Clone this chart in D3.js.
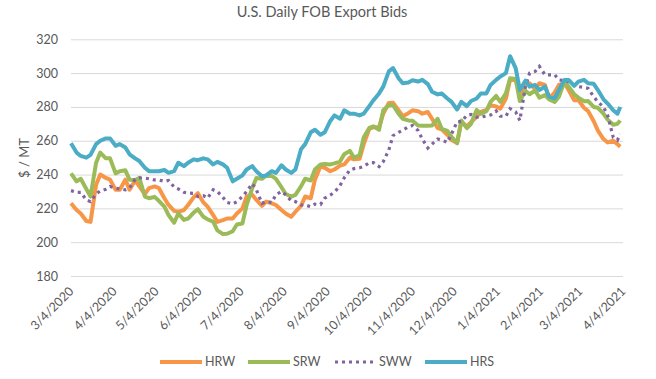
<!DOCTYPE html>
<html>
<head>
<meta charset="utf-8">
<script src="https://cdn.jsdelivr.net/npm/d3@7"></script>
<style>
  body { margin: 0; background: #fff; }
  text { font-family: Lato, "Open Sans", sans-serif; fill: #595959; }
</style>
</head>
<body>
<svg></svg>
<script>
// readings taken off the chart, twice a week
var dates = [
  "2020-03-04","2020-03-08","2020-03-11","2020-03-15","2020-03-18","2020-03-22","2020-03-25","2020-03-29",
  "2020-04-01","2020-04-05","2020-04-08","2020-04-12","2020-04-15","2020-04-19","2020-04-22","2020-04-26","2020-04-29","2020-05-03",
  "2020-05-06","2020-05-10","2020-05-13","2020-05-17","2020-05-20","2020-05-24","2020-05-27","2020-05-31",
  "2020-06-03","2020-06-07","2020-06-10","2020-06-14","2020-06-17","2020-06-21","2020-06-24","2020-06-28",
  "2020-07-01","2020-07-05","2020-07-08","2020-07-12","2020-07-15","2020-07-19","2020-07-22","2020-07-26","2020-07-29","2020-08-02",
  "2020-08-05","2020-08-09","2020-08-12","2020-08-16","2020-08-19","2020-08-23","2020-08-26","2020-08-30",
  "2020-09-02","2020-09-06","2020-09-09","2020-09-13","2020-09-16","2020-09-20","2020-09-23","2020-09-27","2020-09-30","2020-10-04",
  "2020-10-07","2020-10-11","2020-10-14","2020-10-18","2020-10-21","2020-10-25","2020-10-28","2020-11-01",
  "2020-11-04","2020-11-08","2020-11-11","2020-11-15","2020-11-18","2020-11-22","2020-11-25","2020-11-29",
  "2020-12-02","2020-12-06","2020-12-09","2020-12-13","2020-12-16","2020-12-20","2020-12-23","2020-12-27","2020-12-30","2021-01-03",
  "2021-01-06","2021-01-10","2021-01-13","2021-01-17","2021-01-20","2021-01-24","2021-01-27","2021-01-31",
  "2021-02-03","2021-02-07","2021-02-10","2021-02-14","2021-02-17","2021-02-21","2021-02-24","2021-02-28",
  "2021-03-03","2021-03-07","2021-03-10","2021-03-14","2021-03-17","2021-03-21","2021-03-24","2021-03-28","2021-03-31","2021-04-02"]

var hrw = [223,219, 217,212.5, 212,234, 240,238, 237,231, 231,237, 231,236.5, 233,228.5, 232,233, 232,226, 222,218.5,
  218,219, 222,226.5, 229,223.5, 221,216, 212,213, 214,214, 217,220, 227,228, 225,221.5, 224,223, 222,219, 217,215,
  218,221.5, 227,226, 237,245, 244,242, 243,245.3, 246,250, 249,249.3, 258,267, 268,268, 276,282.3, 282.5,278,
  274.5,276.3, 278,277.5, 276,277, 273,267.5, 266.8,263.5, 260.5,258.7, 271,268.5, 271,274.2, 277,278.2, 281,280.3,
  279,285, 296,296, 288,293.5, 294,290.5, 294,293, 285,288.5, 293,294, 290,284, 284,279.5, 277.5,271.5, 266,261,
  259,260, 258,256.5]
var srw = [240.7,236, 237.5,231.5, 227,247, 253,249.6, 249.6,240.7, 242,242.5, 237,236.8, 238,227, 226,226.8, 224.5,221,
  216,211.5, 217,213.2, 214,217.5, 219.5,215, 213.5,212.1, 207,204.8, 205,206.5, 210.5,211.1, 222,232, 238,237.5,
  239.3,239.2, 237.5,232.5, 228.5,227, 228,233, 237.5,236.5, 243,246, 246.3,246, 246.6,247.7, 252,254, 250,251.4,
  262,267.6, 268.5,266.4, 278,281, 281,276, 273,272, 271.8,269, 268.8,268.9, 269,273, 267,265.8, 262.4,258.5,
  272,267.5, 270,278.2, 276,277.5, 283,286.5, 283,288, 297,296.5, 283.5,289.5, 287.5,289.8, 285.5,287, 284.5,283,
  286,295, 292,287.5, 285.5,283.4, 283.5,280, 279.5,276, 272.5,269.5, 270,272]
var sww = [230.5,229.5, 229.5,225, 224,228.5, 230.3,231.3, 232.9,232, 231.5,231, 232,237.2, 238,237.9, 237.5,236.8,
  236.8,236, 236.5,232.6, 231.5,229.5, 229,228.9, 227,227.5, 226,231, 230,226.5, 223.5,222.6, 224,227, 230,234.6,
  231,223, 224,223.5, 228,230, 228,224.5, 224,222, 222,221, 222.5,222.3, 226,227.9, 229.5,233.5, 238,242.7, 243.5,244,
  244.8,247, 247,244.7, 247.6,254.5, 263,265, 266.2,268.3, 269,266, 261,255.7, 258,261, 260.4,259, 264,271.3,
  271.3,275, 275.5,273.9, 273.9,274.7, 275.2,277.6, 274.5,274.5, 279,277, 272,292, 300,301, 304,299, 299,299,
  296,295.5, 295,293, 292,291.5, 291,286, 283,280, 275,262, 260.4,264]
var hrs = [258.5,253, 251,250, 251.6,258, 260,261.4, 261.4,257, 258,256, 252,249.6, 248,244, 242,242, 242,242.7,
  241,242, 247,245, 247,249, 248.5,249.6, 249,246, 247.5,246, 244,236, 237.5,239.5, 243,245, 242,239, 239.5,242,
  241,245.5, 243,241, 243,255, 258,265, 266.5,263.5, 265,271.7, 275,273, 278,276, 276,275, 276,280.5, 284,288,
  292,301, 303,297, 294,294.5, 295.8,295, 296,293.5, 289,287.4, 288,285, 283,278.5, 283,280.5, 283.5,285, 288,288,
  293,296, 298,300, 310,303, 290,295.5, 292,293, 290,292, 286,285.1, 290,296, 296,292.5, 295,296, 294,293.7,
  290,284.5, 282,278, 276,280]

var seriesNames = ["HRW","SRW","SWW","HRS"]
var seriesColors = ["#F79646","#9BBB59","#8064A2","#4BACC6"]
var tickLabels = ["3/4/2020","4/4/2020","5/4/2020","6/4/2020","7/4/2020","8/4/2020","9/4/2020","10/4/2020",
  "11/4/2020","12/4/2020","1/4/2021","2/4/2021","3/4/2021","4/4/2021"]
var yTicks = [180,200,220,240,260,280,300,320]

var width = 656, height = 379
var plotLeft = 71, plotRight = 623, plotTop = 39.3, plotBottom = 276

var parseDay = d3.timeParse("%Y-%m-%d")
var parseTick = d3.timeParse("%m/%d/%Y")
var days = dates.map(parseDay)
var tickDays = tickLabels.map(parseTick)

var xScale = d3.scaleTime()
    .domain([tickDays[0], tickDays[tickDays.length-1]])
    .range([plotLeft, plotRight])
var yScale = d3.scaleLinear()
    .domain([180,320])
    .range([plotBottom, plotTop])

var svg = d3.select("svg")
    .attr("width",width)
    .attr("height",height)

// gridlines + y labels
var yAxis = d3.axisLeft(yScale)
    .tickValues(yTicks)
    .tickSize(-(plotRight-plotLeft))
    .tickPadding(13)
var gy = svg.append("g")
    .attr("transform","translate("+plotLeft+",0)")
    .call(yAxis)
gy.select(".domain").remove()
gy.selectAll("line").attr("stroke","#D9D9D9")
gy.selectAll("text").style("font-size","12.5px")

// x labels, rotated
var xAxis = d3.axisBottom(xScale)
    .tickValues(tickDays)
    .tickFormat(function(d,i){ return tickLabels[i] })
    .tickSize(0)
var gx = svg.append("g")
    .attr("transform","translate(0,"+plotBottom+")")
    .call(xAxis)
gx.select(".domain").remove()
gx.selectAll("text")
    .style("font-size","12.5px")
    .attr("text-anchor","end")
    .attr("dy",null)
    .attr("y",0)
    .attr("transform","translate(3,16) rotate(-45)")

svg.append("text")
    .text("U.S. Daily FOB Export Bids")
    .attr("x",322)
    .attr("y",17)
    .attr("text-anchor","middle")
    .style("font-size","14.5px")

svg.append("text")
    .text("$ / MT")
    .attr("transform","translate(29,158) rotate(-90)")
    .attr("text-anchor","middle")
    .style("font-size","13px")

var line = d3.line()
    .x(function(d){ return xScale(d.date) })
    .y(function(d){ return yScale(d.value) })

var allSeries = [hrw, srw, sww, hrs]
allSeries.forEach(function(vals, i){
    var pts = vals.map(function(v, j){ return {date: days[j], value: v} })
    var path = svg.append("path")
        .datum(pts)
        .attr("fill","none")
        .attr("stroke",seriesColors[i])
        .attr("d",line)
    if(seriesNames[i]=="SWW"){
        path.attr("stroke-width",3.2).attr("stroke-dasharray","3,4")
    } else {
        path.attr("stroke-width",4).attr("stroke-linejoin","round")
    }
})

// legend
var legendX = [160,248,335,425]
var legend = svg.append("g")
legendX.forEach(function(x, i){
    var sample = legend.append("line")
        .attr("x1",x).attr("x2",x+42)
        .attr("y1",362).attr("y2",362)
        .attr("stroke",seriesColors[i])
    if(seriesNames[i]=="SWW"){
        sample.attr("stroke-width",3.2).attr("stroke-dasharray","3,4").attr("x2",x+38)
    } else {
        sample.attr("stroke-width",4)
    }
    legend.append("text")
        .text(seriesNames[i])
        .attr("x",seriesNames[i]=="SWW" ? x+44 : x+45)
        .attr("y",366)
        .style("font-size","12.5px")
})
</script>
</body>
</html>
